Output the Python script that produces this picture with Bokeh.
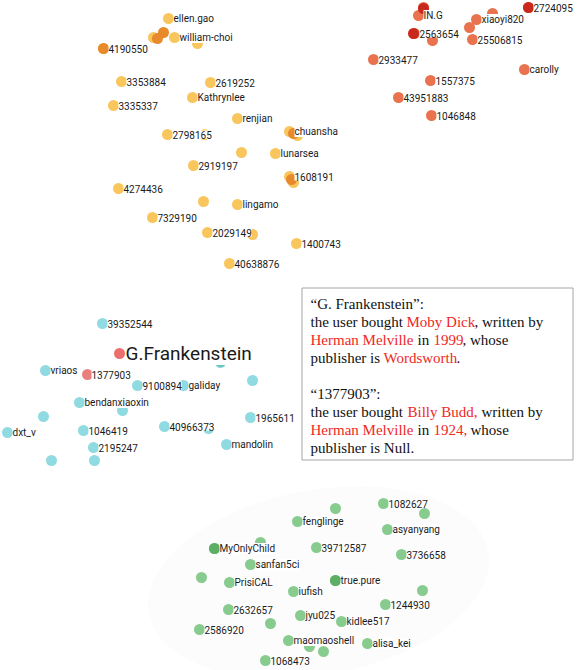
from bokeh.plotting import figure
from bokeh.models import ColumnDataSource, LabelSet, Range1d
from bokeh.core.properties import value
from bokeh.embed import file_html
from bokeh.resources import INLINE

# ---------------- data (positions, in page pixels) ----------------
orange_x = [168, 153, 174, 197, 103, 121, 210, 192, 113, 237, 167, 204, 289, 297, 241, 275, 193, 289, 293, 118, 203, 237, 152, 207, 252, 296, 229]
orange_y = [18, 37, 37, 43, 48, 81, 82, 97, 105, 118, 134, 134, 131, 135, 152, 153, 165, 176, 182, 188, 201, 204, 217, 232, 234, 243, 263]
orange_label = ["ellen.gao", "", "william-choi", "", "4190550", "3353884", "2619252", "Kathrynlee", "3335337",
                "renjian", "2798165", "", "chuansha", "", "", "lunarsea", "2919197", "1608191", "", "4274436",
                "", "lingamo", "7329190", "2029149", "", "1400743", "40638876"]
orange_dark_x = [163, 157, 103, 291, 293]
orange_dark_y = [32, 38, 48, 179, 133]

red_x = [418, 423, 528, 476, 492, 469, 414, 432, 472, 373, 524, 430, 398, 431]
red_y = [15, 7, 7, 19, 13, 27, 33, 40, 39, 59, 69, 80, 97, 115]
red_label = ["IN.G", "", "2724095", "xiaoyi820", "", "", "2563654", "", "25506815", "2933477",
             "carolly", "1557375", "43951883", "1046848"]
red_dark_x = [423, 528, 413]
red_dark_y = [8, 7, 33]

cyan_x = [102, 161, 220, 45, 137, 183, 252, 79, 122, 43, 250, 7, 83, 164, 208, 93, 226, 51, 94]
cyan_y = [323, 358, 362, 370, 385, 385, 380, 402, 410, 416, 417, 432, 430, 426, 428, 447, 444, 460, 460]
cyan_label = ["39352544", "", "", "vriaos", "9100894", "galiday", "", "bendanxiaoxin", "", "", "1965611",
              "dxt_v", "1046419", "40966373", "", "2195247", "mandolin", "", ""]
teal_x = [220]
teal_y = [361]

focus_x = [119, 87]
focus_y = [353, 374]
focus_label = ["G.Frankenstein", "1377903"]

green_x = [383, 335, 424, 297, 387, 260, 214, 316, 401, 250, 201, 229, 335, 293, 422, 385, 228, 300, 341, 270,
           199, 288, 309, 323, 367, 265]
green_y = [503, 508, 513, 521, 529, 542, 548, 547, 554, 564, 577, 582, 580, 591, 590, 604, 609, 615, 621, 623,
           629, 640, 646, 651, 643, 660]
green_label = ["1082627", "", "", "fenglinge", "asyanyang", "", "MyOnlyChild", "39712587", "3736658", "sanfan5ci",
               "", "PrisiCAL", "true.pure", "iufish", "", "1244930", "2632657", "jyu025", "kidlee517", "",
               "2586920", "maomaoshell", "", "", "alisa_kei", "1068473"]
green_dark_x = [214, 335]
green_dark_y = [548, 580]

# annotation text segments (one word group each; no leading/trailing spaces)
note_text = ["\u201cG. Frankenstein\u201d:",
             "the user bought", "Moby Dick", ", written by",
             "Herman Melville", "in", "1999", ", whose",
             "publisher is", "Wordsworth", ".",
             "\u201c1377903\u201d:",
             "the user bought", "Billy Budd,", "written by",
             "Herman Melville", "in", "1924,", "whose",
             "publisher is Null."]
note_red = [False,
            False, True, False,
            True, False, True, False,
            False, True, False,
            False,
            False, True, False,
            True, False, True, False,
            False]
note_line = [0, 1, 1, 1, 2, 2, 2, 2, 3, 3, 3, 4, 5, 5, 5, 6, 6, 6, 6, 7]
note_x = [310, 310, 406, 474, 310, 417, 433, 462, 310, 383, 456, 310, 310, 407, 481, 310, 417, 433, 470, 310]
note_line_y = [303, 321, 339, 357, 393, 411, 429, 447]

# ---------------- figure ----------------
p = figure(width=580, height=670, x_range=Range1d(0, 580), y_range=Range1d(670, 0),
           output_backend="svg", toolbar_location=None, min_border=0,
           x_axis_location=None, y_axis_location=None)
p.grid.visible = False
p.outline_line_color = None
p.background_fill_color = "white"
p.border_fill_color = "white"

# faint halo behind the green cluster
p.ellipse(x=[318], y=[582], width=[345], height=[185], angle=[0.18],
          fill_color="#fcfcfc", line_color=None)

SIZE = 11


def cluster(xs, ys, color):
    p.scatter(xs, ys, size=SIZE, fill_color=color, line_color=None)


cluster(orange_x, orange_y, "#f8c65c")
cluster(orange_dark_x, orange_dark_y, "#e8892c")
cluster(red_x, red_y, "#e9724f")
cluster(red_dark_x, red_dark_y, "#c9281c")
cluster(cyan_x, cyan_y, "#90dbe1")
cluster(teal_x, teal_y, "#6cc4b5")
cluster(green_x, green_y, "#87cc8e")
cluster(green_dark_x, green_dark_y, "#5cae64")
cluster(focus_x[:1], focus_y[:1], "#ec6f6c")
cluster(focus_x[1:], focus_y[1:], "#e9807e")


def labels(xs, ys, texts, size="10px", dx=5):
    keep = [i for i, t in enumerate(texts) if t]
    src = ColumnDataSource(dict(x=[xs[i] for i in keep], y=[ys[i] for i in keep],
                                t=[texts[i] for i in keep]))
    p.add_layout(LabelSet(x="x", y="y", text="t", source=src, x_offset=dx, y_offset=0,
                          text_font=value("Roboto"), text_font_size=value(size),
                          text_color="#1a1a1a", text_baseline="middle",
                          background_fill_color="white"))


labels(orange_x, orange_y, orange_label)
labels(red_x, red_y, red_label)
labels(cyan_x, cyan_y, cyan_label)
labels(green_x, green_y, green_label)
labels(focus_x[1:], focus_y[1:], focus_label[1:], dx=4)
labels(focus_x[:1], focus_y[:1], focus_label[:1], size="19px", dx=6)

# annotation box
p.quad(left=[301.5], right=[572.5], top=[287.5], bottom=[459.5],
       fill_color="white", line_color="#a6a6a6", line_width=1)
note_src = ColumnDataSource(dict(
    x=note_x,
    y=[note_line_y[i] for i in note_line],
    t=note_text,
    c=["#f0281e" if r else "#111111" for r in note_red],
))
p.text(x="x", y="y", text="t", text_color="c", source=note_src,
       text_font=value("Liberation Serif"), text_font_size="15px",
       text_baseline="middle", text_align="left")

open("out.html", "w").write(file_html(p, INLINE))
